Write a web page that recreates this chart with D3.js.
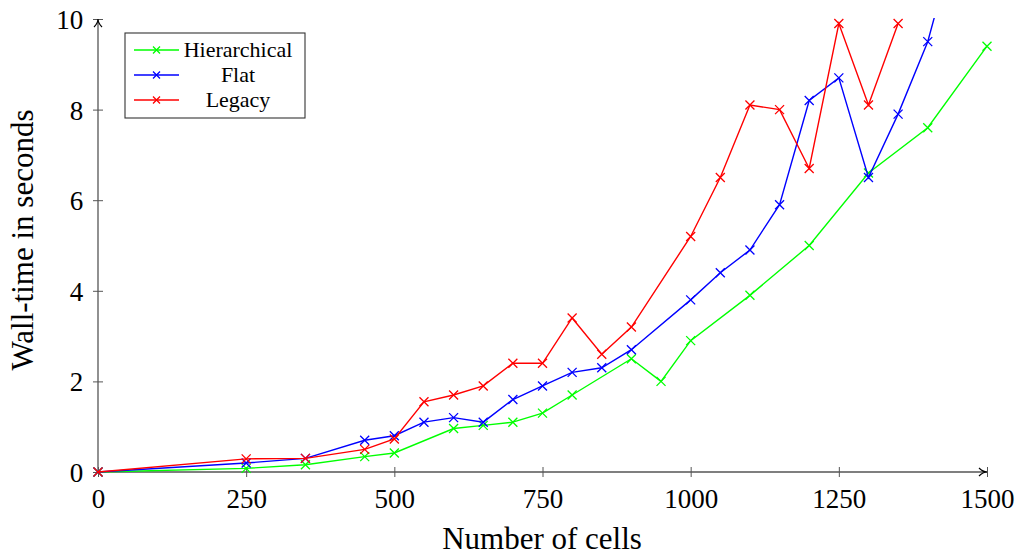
<!DOCTYPE html>
<html>
<head>
<meta charset="utf-8">
<script src="https://cdn.jsdelivr.net/npm/d3@7"></script>
<style>
  body { margin: 0; background: #fff; }
  text { font-family: "Liberation Serif", "DejaVu Serif", serif; fill: #000; }
</style>
</head>
<body>
<svg id="chart" width="1021" height="555"></svg>
<script>
// values
var hierX = [0, 250, 350, 450, 500, 600, 650, 700, 750, 800, 900, 950, 1000, 1100, 1200, 1300, 1400, 1500];
var hierY = [0, 0.08, 0.16, 0.34, 0.42, 0.96, 1.03, 1.1, 1.3, 1.7, 2.5, 2.0, 2.9, 3.9, 5.0, 6.6, 7.6, 9.4];

var flatX = [0, 250, 350, 450, 500, 550, 600, 650, 700, 750, 800, 850, 900, 1000, 1050, 1100, 1150, 1200, 1250, 1300, 1350, 1400, 1450];
var flatY = [0, 0.2, 0.3, 0.7, 0.8, 1.1, 1.2, 1.1, 1.6, 1.9, 2.2, 2.3, 2.7, 3.8, 4.4, 4.9, 5.9, 8.2, 8.7, 6.5, 7.9, 9.5, 11.9];

var legacyX = [0, 250, 350, 450, 500, 550, 600, 650, 700, 750, 800, 850, 900, 1000, 1050, 1100, 1150, 1200, 1250, 1300, 1350];
var legacyY = [0, 0.29, 0.3, 0.5, 0.73, 1.55, 1.7, 1.9, 2.4, 2.4, 3.4, 2.6, 3.2, 5.2, 6.5, 8.1, 8.0, 6.7, 9.9, 8.1, 9.9];

var seriesNames = ["Hierarchical", "Flat", "Legacy"];
var seriesColors = ["#00ff00", "#0000ff", "#ff0000"];
var xTicks = [0, 250, 500, 750, 1000, 1250, 1500];
var yTicks = [0, 2, 4, 6, 8, 10];

var series = [
  { name: seriesNames[0], color: seriesColors[0], xs: hierX, ys: hierY },
  { name: seriesNames[1], color: seriesColors[1], xs: flatX, ys: flatY },
  { name: seriesNames[2], color: seriesColors[2], xs: legacyX, ys: legacyY }
];

var svg = d3.select("#chart");
var pLeft = 98, pRight = 987, pTop = 19, pBottom = 472;
var axisColor = "#555";

var x = d3.scaleLinear().domain([0, 1500]).range([pLeft, pRight]);
var y = d3.scaleLinear().domain([0, 10]).range([pBottom, pTop]);

svg.append("defs").append("clipPath").attr("id", "plot")
  .append("rect")
  .attr("x", pLeft - 8).attr("y", pTop - 1)
  .attr("width", pRight - pLeft + 16).attr("height", pBottom - pTop + 9);

// axes (ticks cross the axis line)
var xAxis = svg.append("g").attr("transform", "translate(0," + pBottom + ")")
  .call(d3.axisBottom(x).tickValues(xTicks).tickFormat(d3.format("d")).tickSize(5).tickSizeOuter(0));
xAxis.selectAll(".tick line").attr("y1", -5).attr("stroke", axisColor);
xAxis.select(".domain").remove();
xAxis.selectAll(".tick text").attr("font-size", "27px").attr("dy", "1.05em")
  .attr("font-family", "Liberation Serif");

var yAxis = svg.append("g").attr("transform", "translate(" + pLeft + ",0)")
  .call(d3.axisLeft(y).tickValues(yTicks).tickFormat(d3.format("d")).tickSize(5).tickSizeOuter(0));
yAxis.selectAll(".tick line").attr("x1", 5).attr("stroke", axisColor);
yAxis.select(".domain").remove();
yAxis.selectAll(".tick text").attr("font-size", "27px").attr("dx", "-0.25em").attr("dy", "0.35em")
  .attr("font-family", "Liberation Serif");

// axis lines with arrow heads
svg.append("line").attr("x1", pLeft).attr("x2", pRight).attr("y1", pBottom).attr("y2", pBottom)
  .attr("stroke", axisColor).attr("stroke-width", 1.3);
svg.append("line").attr("x1", pLeft).attr("x2", pLeft).attr("y1", pBottom).attr("y2", pTop)
  .attr("stroke", axisColor).attr("stroke-width", 1.3);
svg.append("path")
  .attr("d", "M" + (pRight - 8) + "," + (pBottom - 4) + " Q" + (pRight - 4) + "," + pBottom + " " + pRight + "," + pBottom +
    " Q" + (pRight - 4) + "," + pBottom + " " + (pRight - 8) + "," + (pBottom + 4))
  .attr("fill", "none").attr("stroke", "#000").attr("stroke-width", 1.2);
svg.append("path")
  .attr("d", "M" + (pLeft - 4) + "," + (pTop + 8) + " Q" + pLeft + "," + (pTop + 4) + " " + pLeft + "," + pTop +
    " Q" + pLeft + "," + (pTop + 4) + " " + (pLeft + 4) + "," + (pTop + 8))
  .attr("fill", "none").attr("stroke", "#000").attr("stroke-width", 1.2);

// axis titles
svg.append("text")
  .attr("x", 542).attr("y", 549)
  .attr("text-anchor", "middle").attr("font-size", "31px")
  .text("Number of cells");
svg.append("text")
  .attr("transform", "translate(33,240) rotate(-90)")
  .attr("text-anchor", "middle").attr("font-size", "31px")
  .text("Wall-time in seconds");

function cross(g, cx, cy, color, r) {
  g.append("path")
    .attr("d", "M" + (cx - r) + "," + (cy - r) + "L" + (cx + r) + "," + (cy + r) +
      "M" + (cx - r) + "," + (cy + r) + "L" + (cx + r) + "," + (cy - r))
    .attr("stroke", color).attr("stroke-width", 1.3).attr("fill", "none");
}

var line = d3.line().x(function (d) { return x(d[0]); }).y(function (d) { return y(d[1]); });
var plot = svg.append("g").attr("clip-path", "url(#plot)");

series.forEach(function (s) {
  var pts = s.xs.map(function (v, i) { return [v, s.ys[i]]; });
  plot.append("path").datum(pts)
    .attr("d", line)
    .attr("fill", "none").attr("stroke", s.color).attr("stroke-width", 1.4);
  pts.forEach(function (p) {
    if (p[1] <= 10) cross(plot, x(p[0]), y(p[1]), s.color, 4.5);
  });
});

// legend
var lg = svg.append("g");
lg.append("rect").attr("x", 125).attr("y", 33).attr("width", 180).attr("height", 85)
  .attr("fill", "#fff").attr("stroke", "#333").attr("stroke-width", 1.1);
series.forEach(function (s, i) {
  var ly = 50 + i * 25;
  lg.append("line").attr("x1", 134).attr("x2", 179).attr("y1", ly).attr("y2", ly)
    .attr("stroke", s.color).attr("stroke-width", 1.4);
  cross(lg, 156.5, ly, s.color, 3.5);
  lg.append("text").attr("x", 238).attr("y", ly + 7)
    .attr("text-anchor", "middle").attr("font-size", "22px")
    .text(s.name);
});
</script>
</body>
</html>
